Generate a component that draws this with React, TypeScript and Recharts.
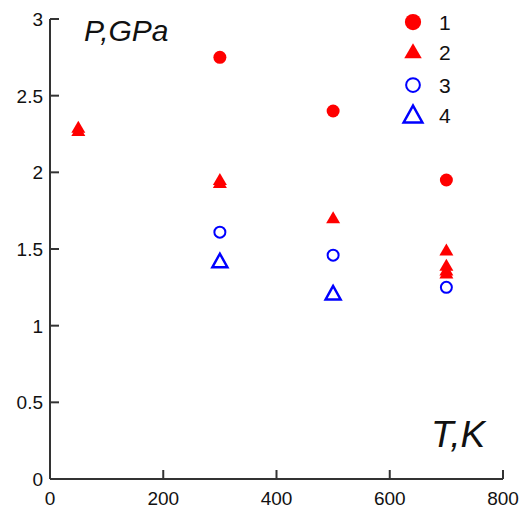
import { ScatterChart, Scatter, XAxis, YAxis } from 'recharts'

// temperatures (K) and pressures (GPa) for each series
const s1T = [300, 500, 700]
const s1P = [2.75, 2.4, 1.95]
const s2T = [50, 50, 300, 300, 500, 700, 700, 700, 700]
const s2P = [2.29, 2.27, 1.95, 1.93, 1.7, 1.49, 1.39, 1.36, 1.34]
const s3T = [300, 500, 700]
const s3P = [1.61, 1.46, 1.25]
const s4T = [300, 500]
const s4P = [1.42, 1.21]

const seriesNames = ['1', '2', '3', '4']
const xTicks = [0, 200, 400, 600, 800]
const yTicks = [0, 0.5, 1, 1.5, 2, 2.5, 3]

type Kind = 'dot' | 'tri' | 'ring' | 'otri'
const kinds: Kind[] = ['dot', 'tri', 'ring', 'otri']

const red = '#ff0000'
const blue = '#0000ff'
const ink = '#111111'
const axisInk = '#333333'
const font = 'Liberation Sans, Arial, sans-serif'

const W = 530
const H = 507
const yAxisW = 50
const xAxisH = 28
const mTop = 19
const mRight = 27

const toPoints = (t: number[], p: number[]) => t.map((x, i) => ({ t: x, p: p[i] }))

const seriesData = [
  toPoints(s1T, s1P),
  toPoints(s2T, s2P),
  toPoints(s3T, s3P),
  toPoints(s4T, s4P),
]

function Marker({ kind, cx, cy, scale = 1 }: { kind: Kind; cx: number; cy: number; scale?: number }) {
  if (kind === 'dot') {
    return <circle cx={cx} cy={cy} r={6.5 * scale} fill={red} />
  }
  if (kind === 'tri') {
    const w = 7 * scale
    return (
      <polygon
        points={`${cx},${cy - 7 * scale} ${cx - w},${cy + 5 * scale} ${cx + w},${cy + 5 * scale}`}
        fill={red}
      />
    )
  }
  if (kind === 'ring') {
    return <circle cx={cx} cy={cy} r={5.5 * scale} fill="none" stroke={blue} strokeWidth={2} />
  }
  const w = 7.5 * scale
  return (
    <polygon
      points={`${cx},${cy - 7.5 * scale} ${cx - w},${cy + 6 * scale} ${cx + w},${cy + 6 * scale}`}
      fill="none"
      stroke={blue}
      strokeWidth={2.5}
    />
  )
}

// default tickSize 6 + tickMargin 2 => tick anchor sits 8px outside the axis line
// ticks point into the plot, so mark + label are drawn together
const XTick = ({ x, y, payload }: any) => {
  const ay = y - 8
  return (
    <g>
      <line x1={x} y1={ay} x2={x} y2={ay - 9} stroke={axisInk} strokeWidth={2} />
      <text x={x} y={ay + 26} textAnchor="middle" fontSize={19} fontFamily={font} fill={ink}>
        {payload.value}
      </text>
    </g>
  )
}

const YTick = ({ x, y, payload }: any) => {
  const ax = x + 8
  return (
    <g>
      <line x1={ax} y1={y} x2={ax + 9} y2={y} stroke={axisInk} strokeWidth={2} />
      <text x={ax - 7} y={y + 7} textAnchor="end" fontSize={19} fontFamily={font} fill={ink}>
        {payload.value}
      </text>
    </g>
  )
}

const legendY = [22, 52, 85, 115]

export default function App() {
  return (
    <div style={{ position: 'absolute', left: 0, top: 0, width: W, height: H, background: '#fff' }}>
      <ScatterChart width={W} height={H} margin={{ top: mTop, right: mRight, bottom: 0, left: 0 }}>
        <XAxis
          type="number"
          dataKey="t"
          domain={[0, 800]}
          ticks={xTicks}
          height={xAxisH}
          stroke={axisInk}
          axisLine={{ stroke: axisInk, strokeWidth: 2 }}
          tickLine={false}
          tick={XTick}
        />
        <YAxis
          type="number"
          dataKey="p"
          domain={[0, 3]}
          ticks={yTicks}
          width={yAxisW}
          stroke={axisInk}
          axisLine={{ stroke: axisInk, strokeWidth: 2 }}
          tickLine={false}
          tick={YTick}
        />
        {seriesData.map((d, i) => (
          <Scatter
            key={seriesNames[i]}
            name={seriesNames[i]}
            data={d}
            isAnimationActive={false}
            shape={(props: any) => <Marker kind={kinds[i]} cx={props.cx} cy={props.cy} />}
          />
        ))}
      </ScatterChart>
      {/* axis titles and legend */}
      <svg width={W} height={H} style={{ position: 'absolute', left: 0, top: 0, pointerEvents: 'none' }}>
        <text x={84} y={41} fontSize={30} fontStyle="italic" fontFamily={font} fill={ink}>
          P,GPa
        </text>
        <text x={431} y={447} fontSize={37} fontStyle="italic" fontFamily={font} fill={ink}>
          T,K
        </text>
        {seriesNames.map((n, i) => (
          <g key={n}>
            <Marker kind={kinds[i]} cx={413} cy={legendY[i]} scale={1.25} />
            <text x={439} y={legendY[i] + 8} fontSize={21} fontFamily={font} fill={ink}>
              {n}
            </text>
          </g>
        ))}
      </svg>
    </div>
  )
}
